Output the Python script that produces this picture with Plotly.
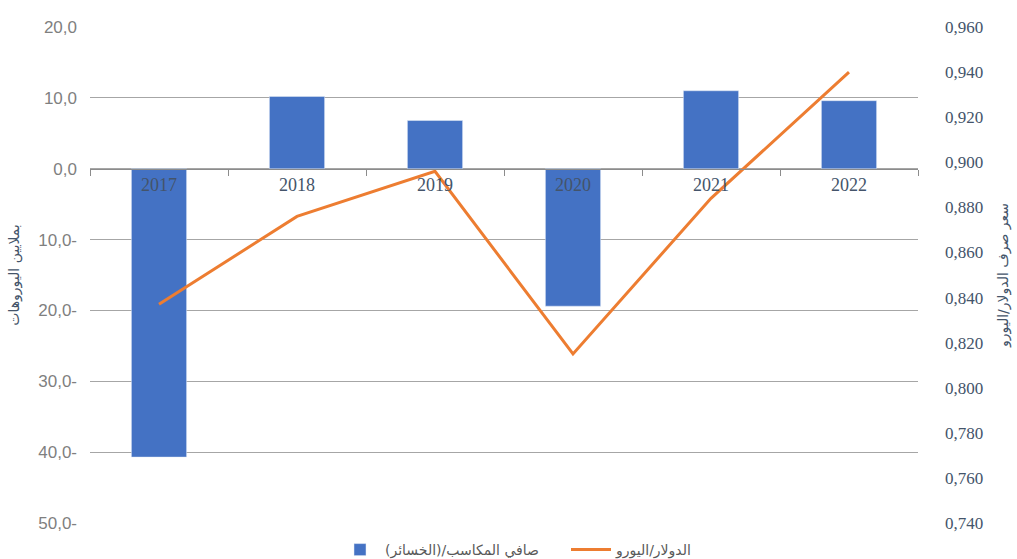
import plotly.graph_objects as go

years = ["2017", "2018", "2019", "2020", "2021", "2022"]
net_gains = [-40.7, 10.2, 6.8, -19.4, 11.0, 9.6]
usd_eur = [0.837, 0.876, 0.896, 0.815, 0.884, 0.940]

left_tickvals = [20, 10, 0, -10, -20, -30, -40, -50]
left_ticktext = ["20,0", "10,0", "0,0", "10,0-", "20,0-", "30,0-", "40,0-", "50,0-"]
right_tickvals = [0.96, 0.94, 0.92, 0.90, 0.88, 0.86, 0.84, 0.82, 0.80, 0.78, 0.76, 0.74]
right_ticktext = ["0,960", "0,940", "0,920", "0,900", "0,880", "0,860", "0,840",
                  "0,820", "0,800", "0,780", "0,760", "0,740"]

bar_name = "صافي المكاسب/(الخسائر)"
line_name = "الدولار/اليورو"
left_title = "بملايين اليوروهات"
right_title = "سعر صرف الدولار/اليورو"

fig = go.Figure()
fig.add_trace(go.Bar(x=years, y=net_gains, name=bar_name, marker_color="#4472C4",
                     width=0.4, yaxis="y"))
fig.add_trace(go.Scatter(x=years, y=usd_eur, name=line_name, mode="lines",
                         line=dict(color="#ED7D31", width=3), yaxis="y2"))

fig.update_layout(
    width=1017, height=559,
    margin=dict(l=90, r=99, t=27, b=36, autoexpand=False),
    plot_bgcolor="white", paper_bgcolor="white",
    showlegend=True,
    legend=dict(orientation="h", x=335 / 1017, xanchor="left", xref="container",
                y=(559 - 550) / 559, yanchor="middle", yref="container",
                entrywidth=176, itemwidth=40,
                font=dict(family="DejaVu Sans, Arial", size=14, color="#595959"),
                traceorder="normal"),
    xaxis=dict(type="category", anchor="free", position=50 / 70, automargin=False,
               showline=True, linecolor="#8C8C8C", linewidth=1,
               ticks="outside", tickson="boundaries", ticklen=6, tickcolor="#8C8C8C",
               tickfont=dict(family="Liberation Serif", size=18, color="#44546A"),
               showgrid=False, zeroline=False),
    yaxis=dict(range=[-50, 20], tickvals=left_tickvals, ticktext=left_ticktext,
               automargin=False,
               tickfont=dict(family="Liberation Sans, Arial", size=17, color="#7F7F7F"),
               showgrid=True, gridcolor="#A6A6A6", gridwidth=1, zeroline=False,
               ticks="", ticklabelstandoff=12,
               title=dict(text=left_title,
                          font=dict(family="DejaVu Sans, Arial", size=14, color="#44546A"))),
    yaxis2=dict(range=[0.74, 0.96], overlaying="y", side="right", automargin=False,
                tickvals=right_tickvals, ticktext=right_ticktext,
                tickfont=dict(family="Liberation Serif", size=17, color="#44546A"),
                showgrid=False, zeroline=False, ticks="", ticklabelstandoff=26,
                title=dict(text=right_title,
                           font=dict(family="DejaVu Sans, Arial", size=14, color="#44546A"))),
)

fig.write_html("out.html", config={"displayModeBar": False},
               post_script="document.body.style.margin='0';document.body.style.padding='0';")
